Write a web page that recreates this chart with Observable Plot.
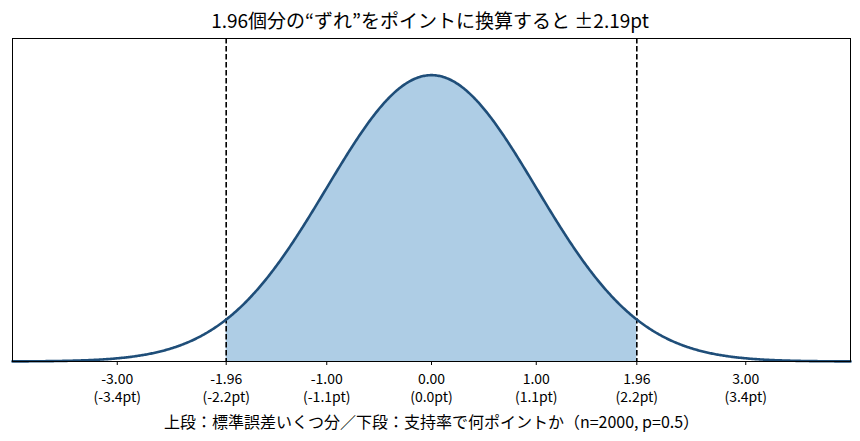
<!DOCTYPE html>
<html><head><meta charset="utf-8">
<script src="https://cdn.jsdelivr.net/npm/d3@7"></script>
<script src="https://cdn.jsdelivr.net/npm/@observablehq/plot@0.6"></script>
<style>
body{margin:0;background:#fff;font-family:"Noto Sans CJK JP","Noto Sans",sans-serif;}
#title{height:34px;line-height:40px;text-align:center;font-size:19px;color:#000;white-space:nowrap;}
</style></head>
<body>
<div id="title">1.96個分の“ずれ”をポイントに換算すると ±2.19pt</div>
<div id="chart"></div>
<script>
const xDomain = [-4, 4];
const yDomain = [0, 0.45];
const zCrit = 1.96;
const tickValues = [-3, -1.96, -1, 0, 1, 1.96, 3];
const tickTop = ["-3.00", "-1.96", "-1.00", "0.00", "1.00", "1.96", "3.00"];
const tickBottom = ["(-3.4pt)", "(-2.2pt)", "(-1.1pt)", "(0.0pt)", "(1.1pt)", "(2.2pt)", "(3.4pt)"];
const xLabel = "上段：標準誤差いくつ分／下段：支持率で何ポイントか（n=2000, p=0.5）";

// standard normal density
const pdf = z => Math.exp(-z * z / 2) / Math.sqrt(2 * Math.PI);
const curve = d3.range(-4, 4.0001, 0.01).map(z => ({z, y: pdf(z)}));
const shaded = curve.filter(d => d.z >= -zCrit - 1e-9 && d.z <= zCrit + 1e-9);
const topMap = new Map(tickValues.map((v, i) => [v, tickTop[i]]));
const bottomMap = new Map(tickValues.map((v, i) => [v, tickBottom[i]]));

const plot = Plot.plot({
  width: 860,
  height: 407,
  marginTop: 4,
  marginBottom: 80,
  marginLeft: 12,
  marginRight: 10,
  style: {fontFamily: '"Noto Sans CJK JP","Noto Sans",sans-serif', fontSize: "14px", color: "#000"},
  x: {domain: xDomain},
  y: {domain: yDomain, axis: null},
  marks: [
    Plot.areaY(shaded, {x: "z", y: "y", fill: "#aecde5"}),
    Plot.ruleX([-zCrit, zCrit], {stroke: "#000", strokeWidth: 1.6, strokeDasharray: "5.5,2.5"}),
    Plot.line(curve, {x: "z", y: "y", stroke: "#1f4e79", strokeWidth: 2.6}),
    Plot.frame({stroke: "#000", strokeWidth: 1}),
    Plot.axisX({ticks: tickValues, tickFormat: d => topMap.get(d), tickSize: 4, tickPadding: 9,
      fontSize: 14, label: null}),
    Plot.axisX({ticks: tickValues, tickFormat: d => bottomMap.get(d), tickSize: 0, tickPadding: 31,
      fontSize: 14, label: null}),
    Plot.axisX({ticks: [], tickSize: 0, fontSize: 16,
      label: xLabel, labelAnchor: "center", labelArrow: "none", labelOffset: 66})
  ]
});
document.getElementById("chart").appendChild(plot);
</script>
</body></html>
